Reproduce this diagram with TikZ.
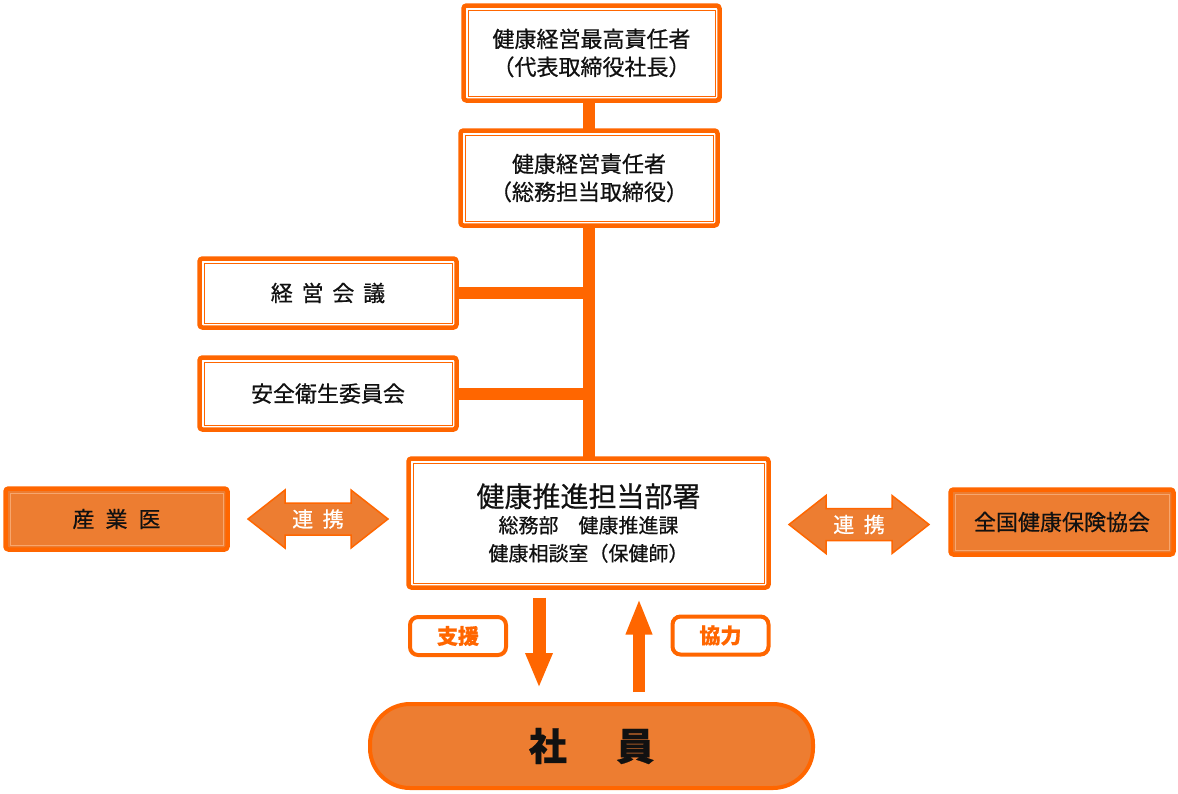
\documentclass[tikz,border=0pt]{standalone}
\usepackage{fontspec}
\setmainfont{Noto Sans CJK JP}[FakeBold=0.6]
\usetikzlibrary{arrows.meta}
\definecolor{org}{HTML}{FF6600}
\definecolor{ofill}{HTML}{ED7D31}
\definecolor{oline}{HTML}{F7A66E}
\definecolor{ink}{HTML}{111111}
\newcommand\fsz[2]{\fontsize{#1}{#2}\selectfont}
\newcommand\dblarrowshape[1]{\filldraw[fill=ofill, draw=org, line width=1.5pt, line join=miter, shift={(#1)}] (-70,0) -- (-33,-29) -- (-33,-16) -- (33,-16) -- (33,-29) -- (70,0) -- (33,29) -- (33,16) -- (-33,16) -- (-33,29) -- cycle;}
\tikzset{
  dbox/.style={draw=org, line width=4.5pt, rounded corners=3pt, fill=white, inner sep=0pt, outer sep=0pt,
    align=center, text=ink, font=\fsz{22}{28},
    path picture={\draw[#1, line width=1pt, sharp corners]
      ([shift={(4.5pt,-4.5pt)}]path picture bounding box.north west) rectangle
      ([shift={(-4.5pt,4.5pt)}]path picture bounding box.south east);}},
  dbox/.default=org,
  filledbox/.style={dbox=oline, fill=ofill},
  trunk/.style={draw=org, line width=12pt},
  bigarrow/.style={draw=org, line width=13pt, -{Triangle[length=35pt,width=25pt]}},
  tagbox/.style={draw=org, line width=4pt, rounded corners=8pt, fill=white, inner sep=0pt, outer sep=0pt,
    minimum width=96pt, minimum height=38pt, text=org, font=\bfseries\fsz{21}{21}},
  ren/.style={text=white, font=\fsz{21}{21}, inner sep=0pt}
}
\begin{document}
\begin{tikzpicture}[x=1pt,y=-1pt]
\useasboundingbox (0,0) rectangle (1178,793);

% boxes
\node[dbox, minimum width=256pt, minimum height=95pt] (top) at (591.5,53) {健康経営最高責任者\\（代表取締役社長）};
\node[dbox, minimum width=257pt, minimum height=95pt] (box2) at (589,178) {健康経営責任者\\（総務担当取締役）};
\node[dbox, minimum width=257pt, minimum height=69pt] (keiei) at (328,293) {経\hspace{0.4em}営\hspace{0.4em}会\hspace{0.4em}議};
\node[dbox, minimum width=257pt, minimum height=72pt] (anzen) at (328,393.5) {安全衛生委員会};
\node[dbox, minimum width=360pt, minimum height=129pt] (central) at (588.5,523)
  {{\fsz{28}{30}健康推進担当部署}\\[-2pt]{\fsz{20}{23}総務部\hspace{1em}健康推進課}\\{\fsz{20}{23}健康相談室（保健師）}};
\node[filledbox, minimum width=222pt, minimum height=61pt] (sangyoi) at (116.5,519) {産\hspace{0.5em}業\hspace{0.5em}医};
\node[filledbox, minimum width=223pt, minimum height=65pt] (kyokai) at (1062,522) {全国健康保険協会};
\node[draw=org, line width=4pt, fill=ofill, rounded corners=40pt, minimum width=443pt, minimum height=84pt,
  inner sep=0pt, outer sep=0pt, text=ink, font=\bfseries\fsz{38}{38}] (shain) at (591.5,746) {社\hspace{1.3em}員};

% trunk and branches
\draw[trunk] (box2.north) -- (box2.north |- top.south);
\draw[trunk] (box2.south) -- (box2.south |- central.north);
\draw[trunk] (keiei.east) -- (keiei.east -| box2.south);
\draw[trunk] (anzen.east) -- (anzen.east -| box2.south);

% double arrows
\coordinate (c1) at (318,519);
\coordinate (c2) at (859,524.5);
\dblarrowshape{c1}
\dblarrowshape{c2}
\node[ren] (ren1) at (c1) {連\hspace{0.45em}携};
\node[ren] (ren2) at (c2) {連\hspace{0.45em}携};

% support / cooperation arrows
\coordinate (dx) at (539,0);
\coordinate (ux) at (639,0);
\draw[bigarrow, shorten <=10pt, shorten >=16pt] (central.south -| dx) -- (shain.north -| dx);
\draw[bigarrow, line width=12pt, -{Triangle[length=36pt,width=24pt]}, shorten <=12pt, shorten >=11pt] (shain.north -| ux) -- (central.south -| ux);

\node[tagbox] (shien) at (458,636) {支援};
\node[tagbox] (kyoryoku) at (720.5,635.5) {協力};
\end{tikzpicture}
\end{document}
